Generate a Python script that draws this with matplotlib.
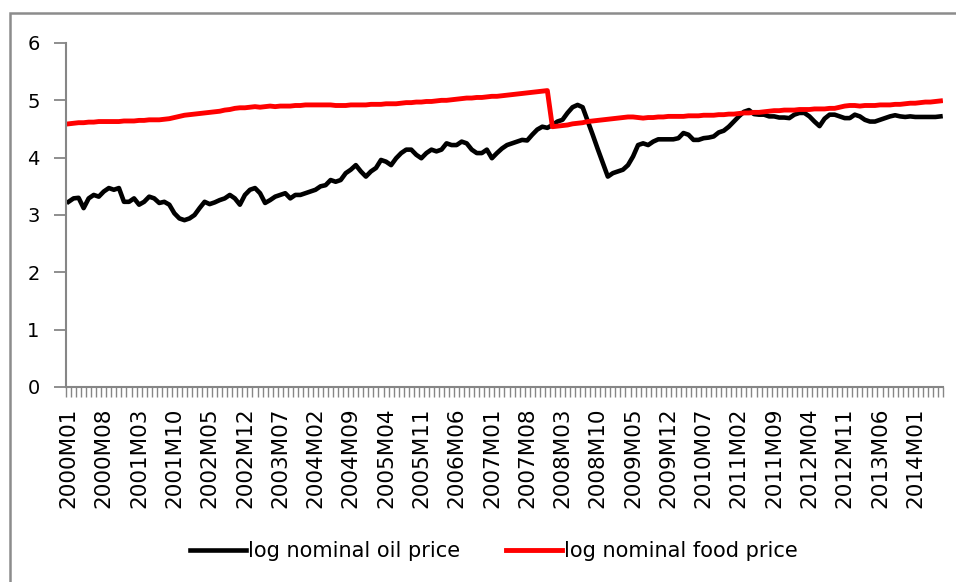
import matplotlib
matplotlib.use("Agg")
import matplotlib.pyplot as plt
from matplotlib.patches import Rectangle
import numpy as np

plt.rcParams['font.family'] = ['DejaVu Sans']

# categories: monthly 2000M01 .. 2014M06
months = [f"{y}M{m:02d}" for y in range(2000, 2015) for m in range(1, 13)][:174]

tick_labels = ["2000M01", "2000M08", "2001M03", "2001M10", "2002M05", "2002M12",
               "2003M07", "2004M02", "2004M09", "2005M04", "2005M11", "2006M06",
               "2007M01", "2007M08", "2008M03", "2008M10", "2009M05", "2009M12",
               "2010M07", "2011M02", "2011M09", "2012M04", "2012M11", "2013M06",
               "2014M01"]

oil = [3.23, 3.29, 3.30, 3.12, 3.29, 3.35, 3.32, 3.41, 3.47, 3.44,
       3.47, 3.23, 3.23, 3.29, 3.18, 3.23, 3.32, 3.29, 3.21, 3.23,
       3.18, 3.03, 2.94, 2.91, 2.94, 3.00, 3.12, 3.23, 3.19, 3.22,
       3.26, 3.29, 3.35, 3.29, 3.18, 3.35, 3.44, 3.47, 3.38, 3.21,
       3.26, 3.32, 3.35, 3.38, 3.29, 3.35, 3.35, 3.38, 3.41, 3.44,
       3.50, 3.52, 3.61, 3.58, 3.61, 3.73, 3.79, 3.87, 3.76, 3.67,
       3.76, 3.82, 3.96, 3.93, 3.87, 3.99, 4.08, 4.14, 4.14, 4.05,
       3.99, 4.08, 4.14, 4.11, 4.14, 4.25, 4.22, 4.22, 4.28, 4.25,
       4.14, 4.08, 4.08, 4.14, 3.99, 4.08, 4.16, 4.22, 4.25, 4.28,
       4.31, 4.30, 4.40, 4.49, 4.54, 4.52, 4.57, 4.63, 4.66, 4.78,
       4.88, 4.92, 4.88, 4.64, 4.40, 4.15, 3.91, 3.67, 3.73, 3.76,
       3.79, 3.87, 4.02, 4.22, 4.25, 4.22, 4.28, 4.32, 4.32, 4.32,
       4.32, 4.34, 4.43, 4.40, 4.31, 4.31, 4.34, 4.35, 4.37, 4.44,
       4.47, 4.54, 4.63, 4.72, 4.80, 4.83, 4.76, 4.75, 4.75, 4.72,
       4.72, 4.70, 4.70, 4.69, 4.75, 4.78, 4.78, 4.72, 4.63, 4.55,
       4.68, 4.75, 4.75, 4.72, 4.69, 4.69, 4.75, 4.72, 4.66, 4.63,
       4.63, 4.66, 4.69, 4.72, 4.74, 4.72, 4.71, 4.72, 4.71, 4.71,
       4.71, 4.71, 4.71, 4.72]

food = [4.59, 4.60, 4.61, 4.61, 4.62, 4.62, 4.63, 4.63, 4.63, 4.63, 4.63,
        4.64, 4.64, 4.64, 4.65, 4.65, 4.66, 4.66, 4.66, 4.67, 4.68,
        4.70, 4.72, 4.74, 4.75, 4.76, 4.77, 4.78, 4.79, 4.80, 4.81,
        4.83, 4.84, 4.86, 4.87, 4.87, 4.88, 4.89, 4.88, 4.89, 4.90,
        4.89, 4.90, 4.90, 4.90, 4.91, 4.91, 4.92, 4.92, 4.92, 4.92,
        4.92, 4.92, 4.91, 4.91, 4.91, 4.92, 4.92, 4.92, 4.92, 4.93,
        4.93, 4.93, 4.94, 4.94, 4.94, 4.95, 4.96, 4.96, 4.97, 4.97,
        4.98, 4.98, 4.99, 5.00, 5.00, 5.01, 5.02, 5.03, 5.04, 5.04,
        5.05, 5.05, 5.06, 5.07, 5.07, 5.08, 5.09, 5.10, 5.11, 5.12,
        5.13, 5.14, 5.15, 5.16, 5.17,
        4.54, 4.55, 4.56, 4.57, 4.59, 4.60, 4.61, 4.63, 4.64, 4.65,
        4.66, 4.67, 4.68, 4.69, 4.70,
        4.71, 4.71, 4.70, 4.69, 4.70, 4.70, 4.71, 4.71, 4.72, 4.72,
        4.72, 4.72, 4.73, 4.73, 4.73, 4.74, 4.74, 4.74, 4.75, 4.75,
        4.76, 4.76, 4.77, 4.78, 4.78, 4.79, 4.79, 4.80, 4.81, 4.82,
        4.82, 4.83, 4.83, 4.83, 4.84, 4.84, 4.84, 4.85, 4.85, 4.85,
        4.86, 4.86, 4.88, 4.90, 4.91, 4.91, 4.90, 4.91, 4.91, 4.91,
        4.92, 4.92, 4.92, 4.93, 4.93, 4.94, 4.95, 4.95, 4.96, 4.97,
        4.97, 4.98, 4.99]

series_names = ["log nominal oil price", "log nominal food price"]

W, H = 956, 582
fig = plt.figure(figsize=(W / 100, H / 100), dpi=100)
ax = fig.add_axes([66 / W, 1 - 387 / H, (943 - 66) / W, (387 - 43) / H])

x = np.arange(len(months))
ax.plot(x, oil, color="black", lw=3.3, solid_joinstyle="round", label=series_names[0])
ax.plot(x, food, color="#ff0000", lw=3.5, solid_joinstyle="round", label=series_names[1])

ax.set_xlim(-0.5, len(months) - 0.5)
ax.set_ylim(0, 6)
ax.set_yticks(range(0, 7))

gray = "#868686"
for s in ["top", "right"]:
    ax.spines[s].set_visible(False)
for s in ["left", "bottom"]:
    ax.spines[s].set_color(gray)
    ax.spines[s].set_linewidth(1.5)

ax.tick_params(axis="y", length=9, width=1.3, color=gray, labelsize=14, pad=10)

tick_pos = [months.index(t) for t in tick_labels]
ax.set_xticks(tick_pos)
ax.set_xticklabels(tick_labels, rotation=90, fontsize=15.5)
ax.tick_params(axis="x", which="major", length=0, pad=15)
ax.set_xticks(np.arange(-0.5, len(months), 1.0), minor=True)
ax.tick_params(axis="x", which="minor", length=7, width=1.0, color=gray)

fig.legend(loc="center", bbox_to_anchor=(494 / W, 1 - 551 / H), ncol=2, frameon=False,
           fontsize=15, handlelength=2.7, handletextpad=0.1, columnspacing=2.2)

fig.patches.append(Rectangle((10 / W, -0.1), 1.2, 1 - 13 / H + 0.1, transform=fig.transFigure,
                             fill=False, edgecolor="#8c8c8c", lw=1.8))

fig.savefig("out.png", dpi=100)
